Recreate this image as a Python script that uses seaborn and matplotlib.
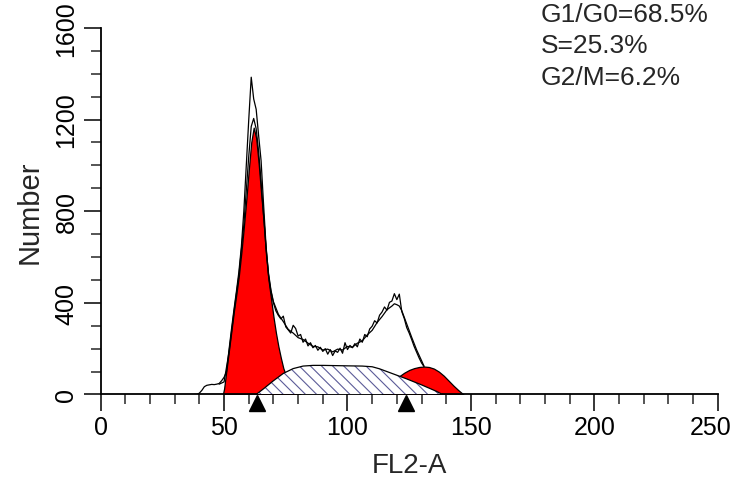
import matplotlib
matplotlib.use("Agg")
import numpy as np
import pandas as pd
import matplotlib.pyplot as plt
import matplotlib.transforms as mtransforms
import seaborn as sns
from matplotlib.ticker import MultipleLocator

# raw histogram trace (FL2-A channel vs number of events)
raw_x = list(range(38, 132))
raw_y = [0, 0, 6, 18, 34, 40, 42, 44, 43, 45,
         48, 60, 75, 100, 195, 285, 370, 450, 535, 645,
         800, 1000, 1200, 1385, 1290, 1245, 1130, 1020, 830, 650,
         520, 450, 400, 365, 345, 330, 342, 295, 282, 268,
         302, 288, 255, 262, 228, 242, 212, 226, 204, 214,
         193, 206, 188, 200, 176, 196, 170, 190, 184, 202,
         180, 226, 196, 214, 204, 222, 208, 242, 228, 262,
         252, 286, 298, 322, 312, 346, 360, 382, 368, 402,
         408, 440, 414, 438, 362, 332, 292, 268, 240, 210,
         185, 160, 138, 122]

# model envelope trace
fit_x = [48, 50, 52, 54, 56, 58, 60, 61, 62, 63, 64, 65, 66, 67, 68, 69, 70, 72, 74, 76,
         78, 80, 82, 84, 86, 88, 90, 92, 94, 96, 98, 100, 102, 104, 106, 108, 110, 112, 114, 116,
         118, 119, 120, 121, 122, 124, 126, 128, 130, 131]
fit_y = [45, 55, 185, 360, 520, 740, 1040, 1170, 1205, 1160, 1060, 930, 780, 640, 530, 455, 405, 350, 318, 284,
         268, 248, 240, 224, 210, 208, 194, 198, 186, 198, 194, 210, 206, 224, 234, 260, 280, 314, 340, 370,
         386, 396, 392, 386, 366, 308, 250, 195, 148, 124]

# G1/G0 peak
g1_x = [49.5, 50, 51, 52, 53, 54, 55, 56, 57, 58, 59, 60, 61, 62, 63, 64, 65, 66, 67, 68,
        69, 70, 71, 72, 73, 74, 75, 76, 77, 78, 79, 80, 81]
g1_y = [0, 25, 110, 195, 280, 365, 440, 520, 620, 730, 850, 980, 1100, 1165, 1120, 1010, 880, 760, 610, 500,
        420, 340, 270, 210, 160, 115, 85, 60, 40, 25, 12, 5, 0]

# S phase
s_x = [63, 66, 70, 74, 78, 82, 86, 90, 95, 100, 106, 110, 113, 116, 119, 121, 124, 127, 130, 133, 136, 138.5]
s_y = [0, 25, 60, 92, 113, 124, 127, 127, 126, 125, 124, 121, 112, 100, 88, 80, 68, 55, 42, 28, 14, 0]

# G2/M peak
g2_x = [114, 116, 118, 120, 121, 123, 125, 127, 129, 131, 133, 135, 137, 139, 141, 143, 145, 147]
g2_y = [0, 30, 50, 70, 80, 95, 107, 115, 120, 122, 120, 113, 100, 82, 60, 38, 18, 0]

# peak position markers
marker_x = [63.3, 123.6]

stats = ["G1/G0=68.5%", "S=25.3%", "G2/M=6.2%"]

sns.set_style("ticks")
plt.rcParams['font.family'] = ['Liberation Sans', 'DejaVu Sans']
plt.rcParams['hatch.linewidth'] = 0.8

fig = plt.figure(figsize=(7.37, 4.81), dpi=100)
ax = fig.add_axes([0.1366, 0.1778, 0.8372, 0.762])

# red peaks under the S phase
ax.fill_between(g1_x, g1_y, color='#ff0000', edgecolor='black', linewidth=0.9, zorder=2)
ax.fill_between(g2_x, g2_y, color='#ff0000', edgecolor='black', linewidth=0.9, zorder=2)

# hatched S phase
ax.fill_between(s_x, s_y, facecolor='white', edgecolor='#5c5c98', hatch='\\\\\\', linewidth=0, zorder=3)
ax.plot(s_x, s_y, color='black', lw=0.9, zorder=4)

raw_df = pd.DataFrame({"FL2-A": raw_x, "Number": raw_y})
fit_df = pd.DataFrame({"FL2-A": fit_x, "Number": fit_y})
sns.lineplot(data=raw_df, x="FL2-A", y="Number", color='black', lw=0.9, sort=False, ax=ax, zorder=5)
sns.lineplot(data=fit_df, x="FL2-A", y="Number", color='black', lw=0.9, sort=False, ax=ax, zorder=5)

# triangles under the axis
ax.plot(marker_x, [-0.022] * len(marker_x), transform=ax.get_xaxis_transform(),
        marker='^', ms=12, color='black', ls='none', clip_on=False, zorder=6)

ax.set_xlim(0, 250)
ax.set_ylim(0, 1600)
ax.xaxis.set_major_locator(MultipleLocator(50))
ax.xaxis.set_minor_locator(MultipleLocator(10))
ax.yaxis.set_major_locator(MultipleLocator(400))
ax.yaxis.set_minor_locator(MultipleLocator(100))
ax.tick_params(which='major', length=12, width=1.1, labelsize=18, colors='black')
ax.tick_params(which='minor', length=7, width=1.1)
ax.tick_params(axis='x', pad=3)
ax.tick_params(axis='y', labelrotation=90, pad=4)
for lbl in ax.get_yticklabels():
    lbl.set_va('center')

sns.despine(ax=ax)
for side in ['left', 'bottom']:
    ax.spines[side].set_linewidth(1.3)
    ax.spines[side].set_color('black')

# nudge the last x tick label inward so it stays on the canvas
fig.canvas.draw()
last = [t for t in ax.xaxis.get_major_ticks() if abs(t.get_loc() - 250) < 1e-6]
for t in last:
    t.label1.set_transform(t.label1.get_transform()
                           + mtransforms.ScaledTranslation(-5 / 72, 0, fig.dpi_scale_trans))

ax.set_xlabel("FL2-A", fontsize=20, labelpad=9)
ax.set_ylabel("Number", fontsize=21, labelpad=8)

for i, s in enumerate(stats):
    fig.text(541 / 737, 0.969 - i * 0.0655, s, fontsize=19, ha='left', va='center')

fig.savefig("out.png", dpi=100)
